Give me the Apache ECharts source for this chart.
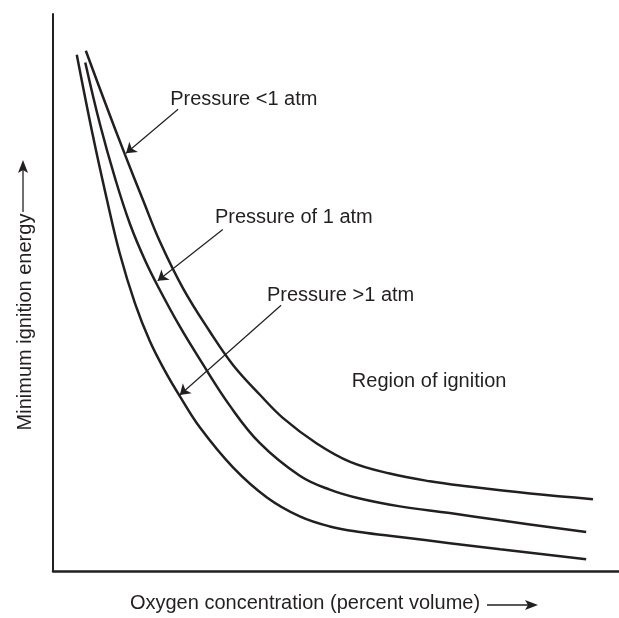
<!DOCTYPE html>
<html>
<head>
<meta charset="utf-8">
<script src="https://cdn.jsdelivr.net/npm/echarts@6/dist/echarts.min.js"></script>
<style>
  html, body { margin: 0; padding: 0; background: #fff; }
  #chart { width: 619px; height: 618px; }
</style>
</head>
<body>
<div id="chart"></div>
<script>
// curves, in arbitrary units (0-100 on both axes, no ticks shown)
var lowPressure = [
  [5.8, 93.4], [9.2, 84.1], [12.7, 74.8], [15.9, 66.6], [18.9, 59.1],
  [23.0, 50.7], [27.7, 43.0], [31.8, 37.0], [36.6, 31.6], [40.6, 27.5],
  [46.6, 22.9], [52.5, 19.6], [59.5, 17.5], [66.6, 16.1], [73.1, 15.2],
  [84.3, 13.9], [95.4, 12.9]
];
var oneAtm = [
  [5.7, 91.3], [8.3, 80.2], [11.0, 70.4], [13.6, 62.3], [16.3, 55.7],
  [18.9, 50.4], [22.4, 43.9], [26.0, 37.9], [31.3, 29.6], [36.6, 22.9],
  [43.6, 17.1], [48.9, 14.6], [54.2, 13.0], [61.3, 11.6], [70.1, 10.4],
  [79.0, 9.1], [94.2, 7.0]
];
var highPressure = [
  [4.2, 92.7], [7.1, 77.9], [9.5, 66.8], [11.8, 57.0], [14.5, 48.0],
  [17.1, 41.3], [19.8, 35.9], [22.4, 31.4], [26.0, 25.7], [31.8, 18.6],
  [37.8, 13.2], [43.6, 9.8], [48.9, 8.0], [54.2, 7.0], [61.3, 6.1],
  [70.1, 5.0], [79.0, 3.9], [94.2, 2.1]
];

// annotation text (left edge, vertical middle) and pointer arrows
var notes = [
  { name: 'Pressure <1 atm', value: [20.7, 84.6] },
  { name: 'Pressure of 1 atm', value: [28.6, 63.4] },
  { name: 'Pressure >1 atm', value: [37.8, 49.5] },
  { name: 'Region of ignition', value: [52.8, 34.1] }
];
var pointers = [
  [[22.1, 82.9], [12.9, 75.0]],
  [[30.0, 61.3], [18.5, 52.1]],
  [[40.3, 47.7], [22.4, 31.6]]
];

var ink = '#231f20';
var font = 'Liberation Sans, Arial, sans-serif';

var chart = echarts.init(document.getElementById('chart'));

function curve(name, data) {
  return {
    name: name,
    type: 'line',
    data: data,
    smooth: 0.4,
    symbol: 'none',
    lineStyle: { color: ink, width: 2.5 }
  };
}

var option = {
  animation: false,
  backgroundColor: '#fff',
  grid: { left: 53, right: 0, top: 14, bottom: 44 },
  xAxis: {
    type: 'value', min: 0, max: 100,
    name: 'Oxygen concentration (percent volume)',
    nameLocation: 'middle',
    nameGap: 22,
    nameTextStyle: { color: ink, fontSize: 20, fontFamily: font, padding: [0, 62, 0, 0] },
    axisLine: { show: true, lineStyle: { color: ink, width: 2.5 } },
    axisTick: { show: false },
    axisLabel: { show: false },
    splitLine: { show: false }
  },
  yAxis: {
    type: 'value', min: 0, max: 100,
    name: 'Minimum ignition energy',
    nameLocation: 'middle',
    nameRotate: 90,
    nameGap: 18,
    nameTextStyle: { color: ink, fontSize: 20, fontFamily: font, padding: [0, 59, 0, 0] },
    axisLine: { show: true, lineStyle: { color: ink, width: 2 } },
    axisTick: { show: false },
    axisLabel: { show: false },
    splitLine: { show: false }
  },
  series: [
    curve('Pressure <1 atm', lowPressure),
    curve('Pressure of 1 atm', oneAtm),
    curve('Pressure >1 atm', highPressure),
    {
      type: 'scatter',
      data: notes,
      symbolSize: 0,
      silent: true,
      itemStyle: { opacity: 1 },
      label: {
        show: true,
        position: 'right',
        distance: 0,
        formatter: '{b}',
        color: ink,
        opacity: 1,
        fontSize: 20,
        fontFamily: font
      },
      markLine: {
        silent: true,
        symbol: ['none', 'arrow'],
        symbolSize: 10,
        label: { show: false },
        lineStyle: { color: ink, width: 1.2, type: 'solid', opacity: 1 },
        data: pointers.map(function (p) {
          return [{ coord: p[0] }, { coord: p[1] }];
        })
      }
    }
  ],
  graphic: [
    { type: 'line', shape: { x1: 487, y1: 605, x2: 528, y2: 605 }, style: { stroke: ink, lineWidth: 1.3 } },
    { type: 'polygon', shape: { points: [[538, 605], [525, 600], [528, 605], [525, 610]] }, style: { fill: ink } },
    { type: 'line', shape: { x1: 23, y1: 212, x2: 23, y2: 170 }, style: { stroke: ink, lineWidth: 1.3 } },
    { type: 'polygon', shape: { points: [[23, 160], [18, 173], [23, 170], [28, 173]] }, style: { fill: ink } }
  ]
};

chart.setOption(option);
</script>
</body>
</html>
